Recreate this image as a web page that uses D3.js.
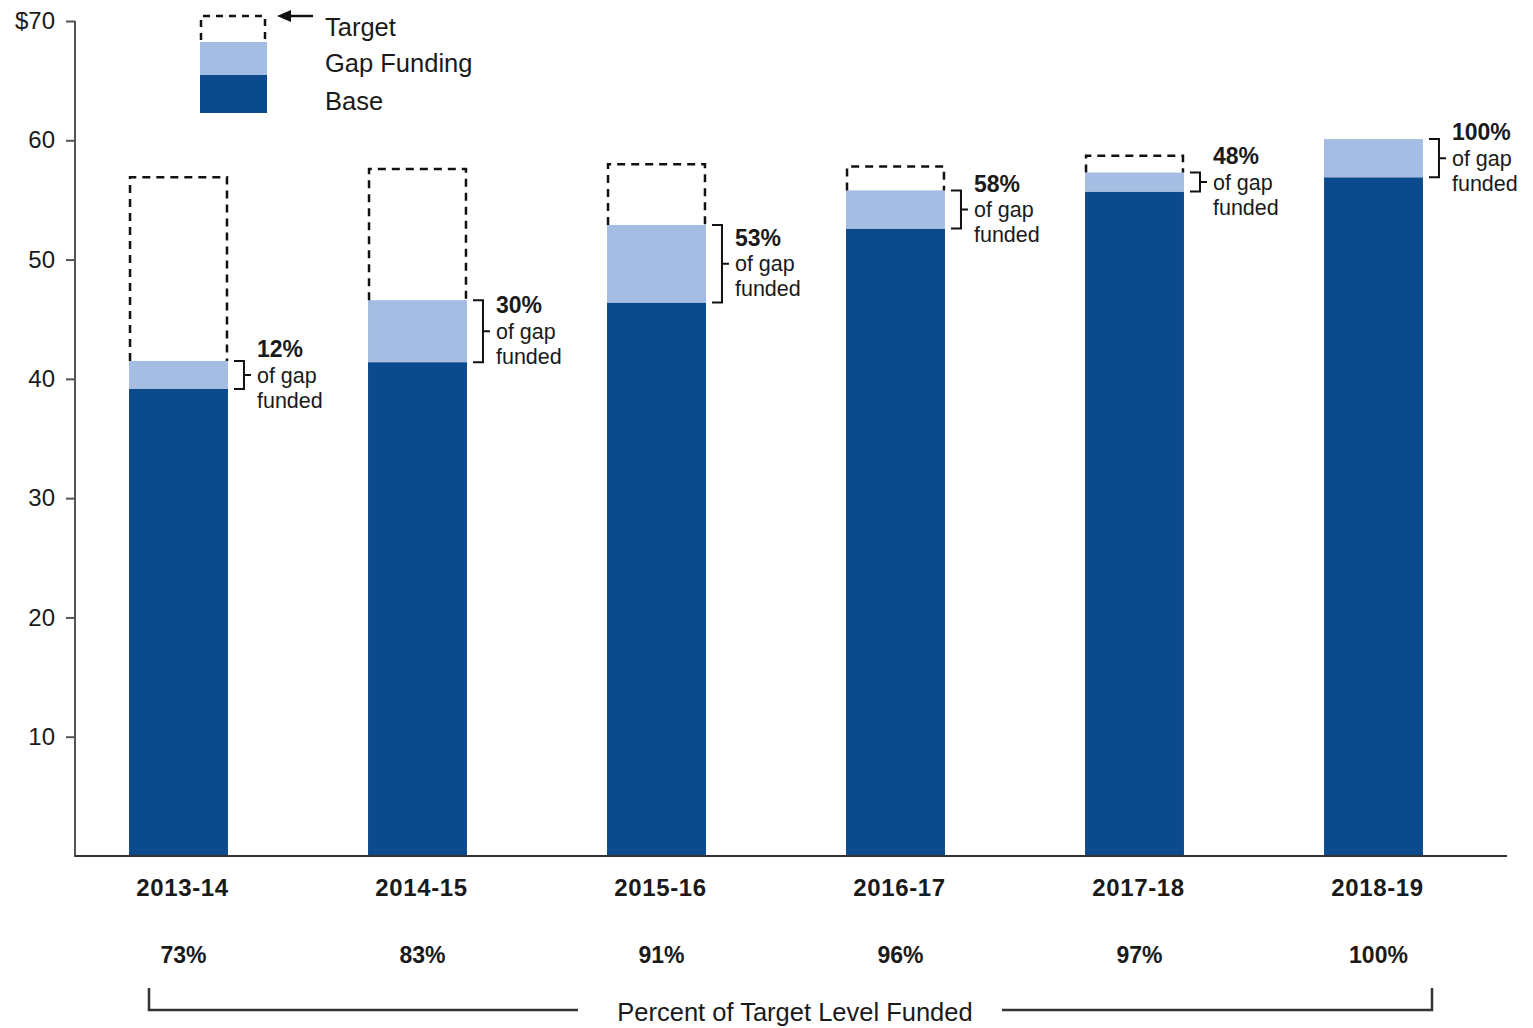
<!DOCTYPE html>
<html><head><meta charset="utf-8">
<script src="https://cdn.jsdelivr.net/npm/d3@7"></script>
<style>
body{margin:0;background:#fff;}
text{font-family:"Liberation Sans",Arial,Helvetica,sans-serif;fill:#1a1a1a;}
</style></head>
<body>
<svg id="chart" width="1533" height="1028"></svg>
<script>
const categories = ["2013-14","2014-15","2015-16","2016-17","2017-18","2018-19"];
const baseValues = [39.15, 41.4, 46.4, 52.6, 55.7, 56.9];
const gapValues = [2.35, 5.2, 6.5, 3.2, 1.6, 3.2];
const targetValues = [56.9, 57.6, 58.0, 57.8, 58.7, null];
const gapFundedPct = ["12%","30%","53%","58%","48%","100%"];
const targetFundedPct = ["73%","83%","91%","96%","97%","100%"];
const yTicks = [10,20,30,40,50,60,70];

const svg = d3.select("#chart");
const baseColor = "#0b4a8c", gapColor = "#a5bde3";

const y = d3.scaleLinear().domain([0,70]).range([856,21]);
const x = d3.scaleBand().domain(categories).range([59,1493]).paddingInner(0.586).paddingOuter(0.293);

// y axis
const yAxis = d3.axisLeft(y).tickValues(yTicks).tickSize(9).tickPadding(11)
  .tickFormat(d => d===70 ? "$70" : d);
const ga = svg.append("g").attr("transform","translate(75,0)").call(yAxis);
ga.select(".domain").attr("stroke","#555").attr("stroke-width",2).attr("d","M0,"+y(70)+"V"+(y(0)+1));
ga.selectAll(".tick line").attr("stroke","#555").attr("stroke-width",2);
ga.selectAll(".tick text").attr("font-size",24).attr("fill","#1a1a1a")
  .style("font-family","'Liberation Sans',Arial,sans-serif");

// bars
const g = svg.append("g");
categories.forEach((c,i)=>{
  const x0 = x(c), w = x.bandwidth();
  const b = baseValues[i], gp = gapValues[i];
  g.append("rect").attr("x",x0).attr("width",w).attr("y",y(b)).attr("height",y(0)-y(b)).attr("fill",baseColor);
  g.append("rect").attr("x",x0).attr("width",w).attr("y",y(b+gp)).attr("height",y(b)-y(b+gp)).attr("fill",gapColor);
  const t = targetValues[i];
  if (t!==null){
    const ytop = y(t), ybot = y(b+gp);
    g.append("path").attr("d",`M${x0+1},${ybot}V${ytop}H${x0+w-1}V${ybot}`)
      .attr("fill","none").attr("stroke","#111").attr("stroke-width",2.5).attr("stroke-dasharray","8,6");
  }
  // bracket
  const bx = x0 + w + 6, yt = y(b+gp), yb = y(b), ym = (yt+yb)/2;
  g.append("path").attr("d",`M${bx},${yt}H${bx+10}V${yb}H${bx}M${bx+10},${ym}H${bx+17}`)
    .attr("fill","none").attr("stroke","#111").attr("stroke-width",2);
  const tx = x0 + w + 29;
  g.append("text").attr("x",tx).attr("y",ym-26).attr("dy","0.35em").attr("font-size",23).attr("font-weight","bold").text(gapFundedPct[i]);
  g.append("text").attr("x",tx).attr("y",ym).attr("dy","0.35em").attr("font-size",21.5).text("of gap");
  g.append("text").attr("x",tx).attr("y",ym+25).attr("dy","0.35em").attr("font-size",21.5).text("funded");
  // category labels
  g.append("text").attr("x",x0+w/2+4).attr("y",888).attr("dy","0.35em").attr("text-anchor","middle")
    .attr("font-size",24).attr("letter-spacing","0.6px").attr("font-weight","bold").text(c);
  g.append("text").attr("x",x0+w/2+5).attr("y",955).attr("dy","0.35em").attr("text-anchor","middle")
    .attr("font-size",23).attr("font-weight","bold").text(targetFundedPct[i]);
});

// x axis line
svg.append("line").attr("x1",75).attr("x2",1507).attr("y1",y(0)).attr("y2",y(0)).attr("stroke","#333").attr("stroke-width",2);

// bottom bracket
svg.append("path").attr("d","M149,988V1010H578M1002,1010H1432V988").attr("fill","none").attr("stroke","#333").attr("stroke-width",2.5);
svg.append("text").attr("x",795).attr("y",1012).attr("dy","0.35em").attr("text-anchor","middle").attr("font-size",25.5).text("Percent of Target Level Funded");

// legend
const lg = svg.append("g");
lg.append("path").attr("d","M201,40V16H265V40").attr("fill","none").attr("stroke","#111").attr("stroke-width",2.5).attr("stroke-dasharray","7,6");
lg.append("rect").attr("x",200).attr("y",42).attr("width",67).attr("height",33).attr("fill",gapColor);
lg.append("rect").attr("x",200).attr("y",75).attr("width",67).attr("height",38).attr("fill",baseColor);
lg.append("line").attr("x1",313).attr("x2",288).attr("y1",16).attr("y2",16).attr("stroke","#111").attr("stroke-width",2.5);
lg.append("path").attr("d","M277,16L291,10L291,22Z").attr("fill","#111");
lg.append("text").attr("x",325).attr("y",27).attr("dy","0.35em").attr("font-size",25.5).text("Target");
lg.append("text").attr("x",325).attr("y",63).attr("dy","0.35em").attr("font-size",25.5).text("Gap Funding");
lg.append("text").attr("x",325).attr("y",101).attr("dy","0.35em").attr("font-size",25.5).text("Base");
</script>
</body></html>
